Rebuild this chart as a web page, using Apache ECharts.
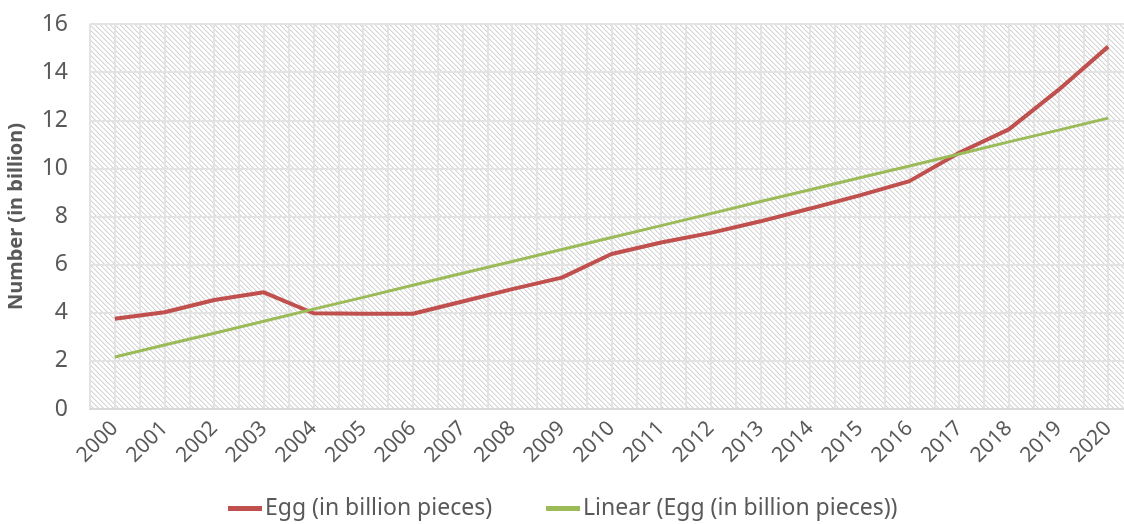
<!DOCTYPE html>
<html><head><meta charset="utf-8">
<script src="https://cdn.jsdelivr.net/npm/echarts@6/dist/echarts.min.js"></script>
<style>html,body{margin:0;padding:0;background:#fff}#c{width:1124px;height:524px}</style>
</head><body><div id="c"></div>
<script>
var years = ['2000','2001','2002','2003','2004','2005','2006','2007','2008','2009','2010','2011','2012','2013','2014','2015','2016','2017','2018','2019','2020'];
var eggValues = [3.75,4.02,4.53,4.85,3.98,3.96,3.96,4.47,4.98,5.46,6.44,6.92,7.32,7.8,8.33,8.88,9.47,10.65,11.62,13.26,15.06];
var linearValues = [2.16,2.66,3.15,3.65,4.15,4.64,5.14,5.64,6.13,6.63,7.13,7.62,8.12,8.62,9.11,9.61,10.10,10.60,11.10,11.59,12.09];
var yTicks = [0,2,4,6,8,10,12,14,16];

var FONT = "'Noto Sans',sans-serif";
var tile = document.createElement('canvas');
tile.width = 5; tile.height = 5;
var g = tile.getContext('2d');
g.fillStyle = '#ffffff'; g.fillRect(0,0,5,5);
for (var i = 0; i < 5; i++) { g.fillStyle = '#d4d4d4'; g.fillRect(i, i, 1, 1); g.fillStyle = '#ececec'; g.fillRect((i+1)%5, i, 1, 1); }

var chart = echarts.init(document.getElementById('c'));
chart.setOption({
  animation: false,
  backgroundColor: '#ffffff',
  grid: { left: 90, width: 1043, top: 24, bottom: 115, show: true, borderWidth: 0,
          outerBoundsMode: 'none', containLabel: false,
          backgroundColor: { image: tile, repeat: 'repeat' } },
  legend: {
    top: 492, left: 223, itemWidth: 34, itemHeight: 5, itemGap: 54, icon: 'rect',
    textStyle: { fontFamily: FONT, fontSize: 23, color: '#595959', padding: [0,0,0,-2] },
    data: ['Egg (in billion pieces)', 'Linear (Egg (in billion pieces))']
  },
  xAxis: [{
    type: 'category', data: years, boundaryGap: true,
    axisLine: { show: true, lineStyle: { color: '#d9d9d9', width: 2 } },
    axisTick: { show: false },
    splitLine: { show: false },
    axisLabel: { rotate: 45, interval: 0, fontFamily: FONT, fontSize: 21, color: '#595959', margin: 16 }
  }, {
    type: 'value', min: -0.5, max: 20.5, interval: 0.5, position: 'bottom',
    axisLine: { show: false }, axisTick: { show: false }, axisLabel: { show: false },
    splitLine: { show: true, lineStyle: { color: '#e3e3e3', width: 2 } }
  }],
  yAxis: {
    type: 'value', min: 0, max: 16, interval: 2,
    name: 'Number (in billion)', nameLocation: 'middle', nameGap: 64, nameRotate: 90,
    nameTextStyle: { fontFamily: FONT, fontSize: 20, fontWeight: 'bold', color: '#595959' },
    axisLine: { show: false }, axisTick: { show: false },
    axisLabel: { fontFamily: FONT, fontSize: 23, color: '#595959', margin: 22,
      formatter: function (v) { return yTicks.indexOf(v) >= 0 ? String(v) : ''; } },
    splitLine: { show: true, lineStyle: { color: '#e3e3e3', width: 2 } }
  },
  series: [{
    name: 'Egg (in billion pieces)', type: 'line', data: eggValues, xAxisIndex: 0,
    symbol: 'none', lineStyle: { color: '#c0504d', width: 4 }, itemStyle: { color: '#c0504d' }, z: 3
  }, {
    name: 'Linear (Egg (in billion pieces))', type: 'line', data: linearValues, xAxisIndex: 0,
    symbol: 'none', lineStyle: { color: '#9bbb59', width: 3 }, itemStyle: { color: '#9bbb59' }, z: 4
  }]
});
</script></body></html>
